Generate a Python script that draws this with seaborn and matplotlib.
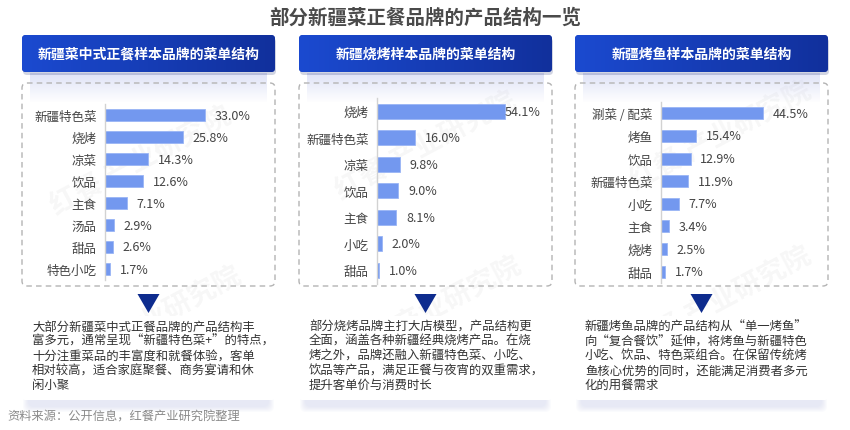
import numpy as np
import pandas as pd
import matplotlib
matplotlib.use('Agg')
import matplotlib.pyplot as plt
import seaborn as sns
from matplotlib.patches import FancyBboxPatch, Polygon
from matplotlib.colors import LinearSegmentedColormap

# data
title = '部分新疆菜正餐品牌的产品结构一览'
headers = ['新疆菜中式正餐样本品牌的菜单结构', '新疆烧烤样本品牌的菜单结构', '新疆烤鱼样本品牌的菜单结构']

cats1 = ['新疆特色菜', '烧烤', '凉菜', '饮品', '主食', '汤品', '甜品', '特色小吃']
vals1 = [33.0, 25.8, 14.3, 12.6, 7.1, 2.9, 2.6, 1.7]

cats2 = ['烧烤', '新疆特色菜', '凉菜', '饮品', '主食', '小吃', '甜品']
vals2 = [54.1, 16.0, 9.8, 9.0, 8.1, 2.0, 1.0]

cats3 = ['涮菜 / 配菜', '烤鱼', '饮品', '新疆特色菜', '小吃', '主食', '烧烤', '甜品']
vals3 = [44.5, 15.4, 12.9, 11.9, 7.7, 3.4, 2.5, 1.7]

notes1 = ['大部分新疆菜中式正餐品牌的产品结构丰', '富多元，通常呈现“新疆特色菜+”的特点，',
          '十分注重菜品的丰富度和就餐体验，客单', '相对较高，适合家庭聚餐、商务宴请和休', '闲小聚']
notes2 = ['部分烧烤品牌主打大店模型，产品结构更', '全面，涵盖各种新疆经典烧烤产品。在烧',
          '烤之外，品牌还融入新疆特色菜、小吃、', '饮品等产品，满足正餐与夜宵的双重需求，', '提升客单价与消费时长']
notes3 = ['新疆烤鱼品牌的产品结构从“单一烤鱼”', '向“复合餐饮”延伸，将烤鱼与新疆特色',
          '小吃、饮品、特色菜组合。在保留传统烤', '鱼核心优势的同时，还能满足消费者多元', '化的用餐需求']

source = '资料来源：公开信息，红餐产业研究院整理'

sns.set_theme(style='white')
plt.rcParams['font.family'] = ['Noto Sans CJK SC', 'DejaVu Sans']

W, H = 850, 431
fig = plt.figure(figsize=(8.5, 4.31), dpi=100)
fig.patch.set_facecolor('white')

bg = fig.add_axes([0, 0, 1, 1])
bg.set_autoscale_on(False)
bg.set_xlim(0, W)
bg.set_ylim(H, 0)
bg.axis('off')

def px_rect(x, y, w, h):
    return [x / W, 1 - (y + h) / H, w / W, h / H]

# watermarks
for (wx, wy) in [(140, 160), (425, 145), (720, 135), (150, 320), (430, 310), (720, 300)]:
    bg.text(wx, wy, '红餐 产业研究院', fontsize=20, color='#000000', alpha=0.035,
            rotation=28, ha='center', va='center', fontweight='bold', zorder=0)

panel_x = [22, 299, 575]
panel_w = 253
hdr_cmap = LinearSegmentedColormap.from_list('hdr', ['#1b4ad0', '#11309c'])
grad = np.linspace(0, 1, 256).reshape(1, -1)

for i, x0 in enumerate(panel_x):
    # header shadow + gradient header
    sh = FancyBboxPatch((x0 + 1, 39), panel_w, 37, boxstyle='round,pad=0,rounding_size=4',
                        fc='#0a1a60', ec='none', alpha=0.18, zorder=2)
    bg.add_patch(sh)
    box = FancyBboxPatch((x0, 36), panel_w, 37, boxstyle='round,pad=0,rounding_size=4',
                         fc='#1639b4', ec='none', zorder=3)
    bg.add_patch(box)
    im = bg.imshow(grad, extent=[x0, x0 + panel_w, 73, 36], cmap=hdr_cmap,
                   aspect='auto', zorder=3.5)
    im.set_clip_path(box)
    bg.text(x0 + panel_w / 2, 55, headers[i], color='white', fontsize=10,
            fontweight='bold', ha='center', va='center', zorder=4)

    # glow under header
    glow = np.zeros((40, 2, 4))
    glow[..., :3] = np.array([0.72, 0.75, 0.93])
    glow[..., 3] = np.linspace(0.45, 0, 40).reshape(-1, 1)
    bg.imshow(glow, extent=[x0 + 8, x0 + panel_w - 8, 104, 74], aspect='auto',
              zorder=1, interpolation='bilinear')

    # dashed frame
    frame = FancyBboxPatch((x0, 84), panel_w, 203, boxstyle='round,pad=0,rounding_size=5',
                           fc='none', ec='#b4b4b4', lw=1.0, ls=(0, (4, 3)), zorder=2)
    bg.add_patch(frame)

    # arrow triangle
    cx = x0 + panel_w / 2
    bg.add_patch(Polygon([[cx - 11, 295], [cx + 11, 295], [cx, 314]], closed=True,
                         fc='#0e2c8e', ec='none', zorder=3))

    # note card with soft shadow
    for k in range(6):
        bg.add_patch(FancyBboxPatch((x0 + 6 - k, 322 - k + 6), panel_w - 12 + 2 * k, 80 + 2 * k,
                                    boxstyle='round,pad=0,rounding_size=6',
                                    fc='#b8bfe6', ec='none', alpha=0.06, zorder=1))
    bg.add_patch(FancyBboxPatch((x0, 317), panel_w, 84, boxstyle='round,pad=0,rounding_size=3',
                                fc='white', ec='none', zorder=1.5))

bg.text(W / 2, 18, title, fontsize=14, fontweight='bold', color='#4a4a4a',
        ha='center', va='center')

for x0, lines in zip(panel_x, [notes1, notes2, notes3]):
    for j, line in enumerate(lines):
        bg.text(x0 + 10, 327 + j * 14.6, line, fontsize=8.9, color='#333333',
                ha='left', va='center', zorder=4)

bg.text(7, 417, source, fontsize=8.8, color='#8a8a8a', ha='left', va='center')

# bar panels
bar_color = '#7398ef'
specs = [
    (cats1, vals1, (105, 105, 151.5, 176), 50, 0.58),
    (cats2, vals2, (377, 99, 142, 185.5), 60, 0.57),
    (cats3, vals3, (661, 103, 137.5, 181), 60, 0.53),
]
for n, (cats, vals, rect, xmax, bw) in enumerate(specs):
    ax = fig.add_axes(px_rect(*rect))
    ax.patch.set_alpha(0)
    df = pd.DataFrame({'cat': cats, 'val': vals})
    sns.barplot(data=df, x='val', y='cat', orient='h', color=bar_color, width=bw,
                saturation=1, edgecolor='#9ab5f5', linewidth=0.6, ax=ax)
    ax.set_xlim(0, xmax)
    ax.set_xlabel('')
    ax.set_ylabel('')
    ax.set_xticks([])
    ax.tick_params(axis='y', length=0, pad=6, labelsize=9, labelcolor='#444444')
    for s in ['top', 'right', 'bottom']:
        ax.spines[s].set_visible(False)
    ax.spines['left'].set_color('#d2d2d2')
    ax.spines['left'].set_linewidth(1.0)
    for k, v in enumerate(vals):
        off = 0 if (n == 1 and k == 0) else 7
        ax.annotate(f'{v:.1f}%', (v, k), xytext=(off, 0), textcoords='offset points',
                    ha='left', va='center', fontsize=9, color='#444444',
                    annotation_clip=False)

fig.savefig('out.png', dpi=100, facecolor='white')
